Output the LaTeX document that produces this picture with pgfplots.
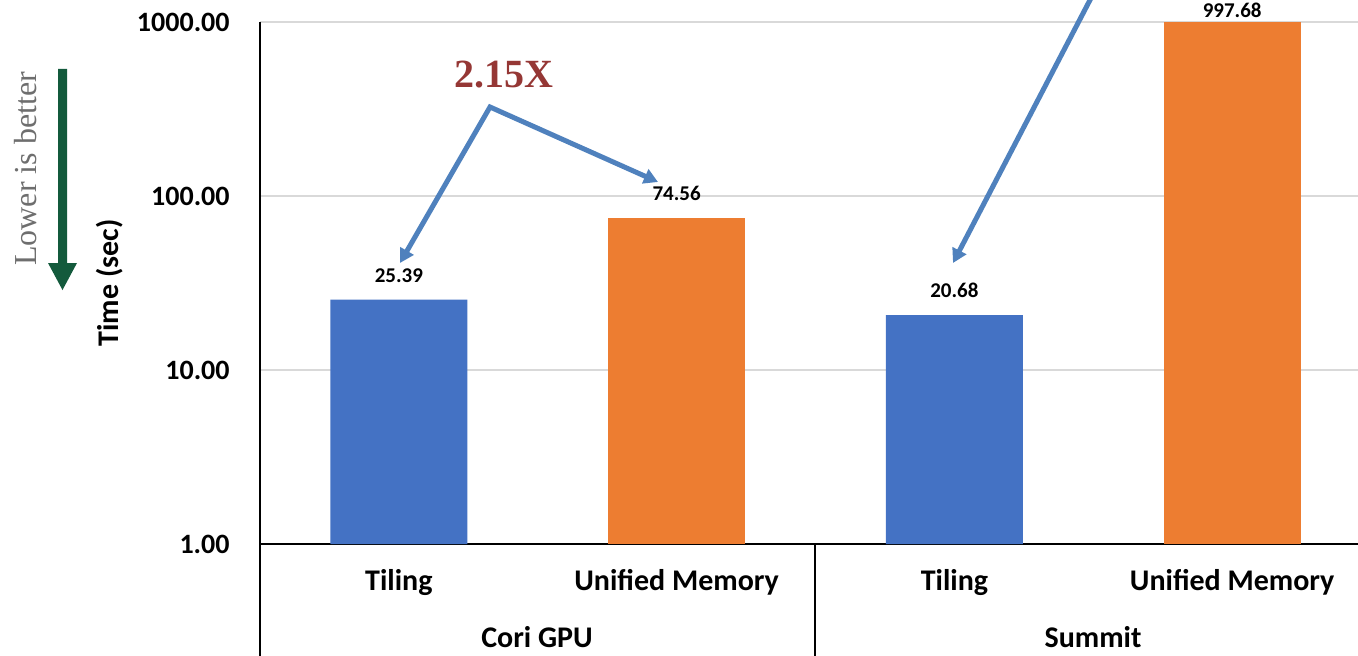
\documentclass[border=0pt]{standalone}
\usepackage{pgfplots}
\pgfplotsset{compat=1.18}
\usepackage{fontspec}
\setmainfont{Carlito}
\newfontfamily\serifA{Liberation Serif}
\usetikzlibrary{arrows.meta}
\definecolor{barblue}{HTML}{4472C4}
\definecolor{barorange}{HTML}{ED7D31}
\definecolor{arrowblue}{HTML}{4F81BD}
\definecolor{darkred}{HTML}{953735}
\definecolor{darkgreen}{HTML}{135A3C}
\definecolor{gridgray}{HTML}{D9D9D9}
\definecolor{txtgray}{HTML}{6E6E6E}
\begin{document}
\begin{tikzpicture}
\useasboundingbox (0,0) rectangle (679pt,327.5pt);
\clip (0,0) rectangle (679pt,327.5pt);
\begin{axis}[
  at={(130pt,55.5pt)}, anchor=south west,
  scale only axis, width=549pt, height=261pt,
  ymode=log, ymin=1, ymax=1000, xmin=-0.5, xmax=3.453,
  axis x line=bottom, axis y line=left,
  axis line style={-, black, line width=0.75pt},
  ytick={1,10,100,1000}, yticklabels={1.00,10.00,100.00,1000.00},
  yticklabel style={font=\fontsize{14}{16}\selectfont\bfseries, inner sep=0pt, anchor=east, xshift=-15pt},
  xtick={0,1,2,3}, xticklabels={Tiling,Unified Memory,Tiling,Unified Memory},
  xticklabel style={font=\fontsize{15}{18}\selectfont\bfseries, anchor=base, yshift=-23pt},
  major tick length=0pt, minor tick length=0pt,
  ymajorgrids, grid style={gridgray, line width=0.75pt},
  ybar, bar width=68.5pt,
  clip=false,
  log origin=infty,
  point meta=explicit symbolic,
  nodes near coords,
  every node near coord/.append style={font=\fontsize{10.5}{12}\selectfont\bfseries, anchor=base, yshift=8.7pt},
]
\addplot[fill=barblue, draw=none, bar shift=0pt] coordinates {(0,25.39) [25.39] (2,20.68) [20.68]};
\addplot[fill=barorange, draw=none, bar shift=0pt] coordinates {(1,74.56) [74.56]};
\addplot[fill=barorange, draw=none, bar shift=0pt, every node near coord/.append style={yshift=-6.5pt}] coordinates {(3,997.68) [997.68]};
\end{axis}
\begin{scope}[x=0.5pt,y=-0.5pt,shift={(0pt,327.5pt)}]
  \draw[black, line width=0.75pt] (260,544) -- (260,660);
  \draw[black, line width=0.75pt] (815,544) -- (815,660);
  \fill[darkgreen] (58,69) -- (67,69) -- (67,263) -- (77,263) -- (62.5,290) -- (48,263) -- (58,263) -- cycle;
  \node[rotate=90, font=\serifA\fontsize{16}{18}\selectfont, text=txtgray] at (26,169) {Lower is better};
  \node[rotate=90, font=\fontsize{15}{18}\selectfont\bfseries] at (110,283) {Time (sec)};
  \node[text=darkred, font=\serifA\bfseries\fontsize{20}{24}\selectfont] at (504,75) {2.15X};
  \draw[arrowblue, line width=2.5pt, line join=miter, {Triangle[length=7pt,width=7.5pt]}-{Triangle[length=7pt,width=7.5pt]}] (400,263) -- (490,107) -- (658,182);
  \draw[arrowblue, line width=2.5pt, -{Triangle[length=7pt,width=7.5pt]}] (1103,-25) -- (953,263);
  \node[anchor=base, font=\fontsize{15}{18}\selectfont\bfseries] at (537,647) {Cori GPU};
  \node[anchor=base, font=\fontsize{15}{18}\selectfont\bfseries] at (1093,647) {Summit};
\end{scope}
\end{tikzpicture}
\end{document}
